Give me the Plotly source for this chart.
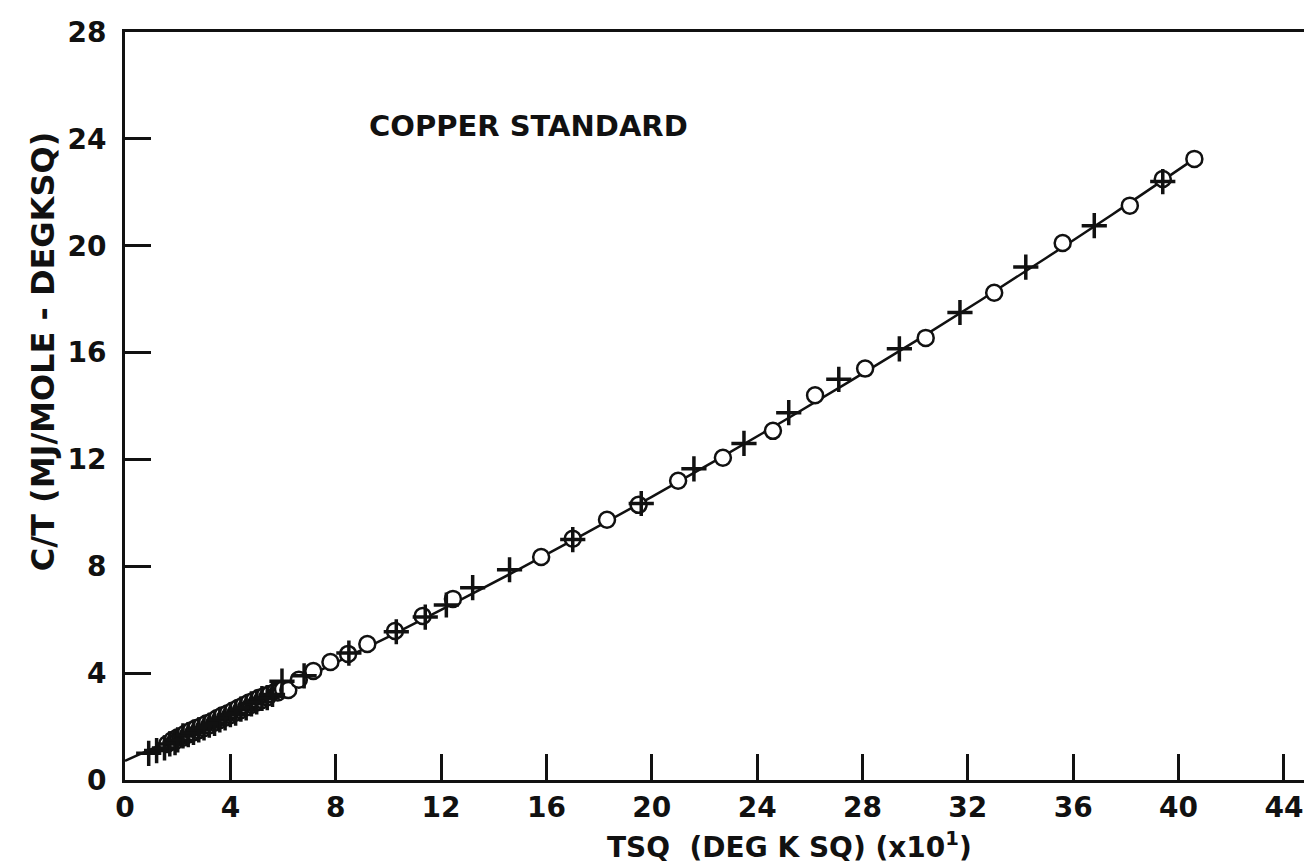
import plotly.graph_objects as go

# ---- data ----
# fitted curve C/T vs TSQ (x10)
line_x = [0, 2.5, 5, 7.5, 10, 12.5, 15, 17.5, 20, 22.5, 25, 27.5, 30, 32.5, 35, 37.5, 40.6]
line_y = [0.72, 1.82, 2.97, 4.15, 5.36, 6.62, 7.91, 9.24, 10.60, 12.00, 13.44, 14.91, 16.42, 17.97, 19.56, 21.18, 23.25]

# open-circle data points
circ_x = [1.6, 1.8, 1.9, 2.0, 2.1, 2.2, 2.3, 2.4, 2.5, 2.6, 2.7, 2.8, 2.9, 3.0, 3.1, 3.2, 3.3, 3.4, 3.5,
          3.6, 3.7, 3.8, 3.9, 4.0, 4.1, 4.2, 4.3, 4.4, 4.5, 4.6, 4.7, 4.8, 4.9, 5.0, 5.1, 5.2,
          5.3, 5.4, 5.5, 5.7, 5.8, 6.0,
          6.2, 6.6, 7.15, 7.8, 8.47, 9.2, 10.25, 11.3, 12.45, 15.8, 17.0, 18.3, 19.5,
          21.0, 22.7, 24.6, 26.2, 28.1, 30.4, 33.0, 35.6, 38.15, 39.4, 40.6]
circ_y = [1.35, 1.50, 1.45, 1.60, 1.62, 1.58, 1.75, 1.70, 1.85, 1.78, 1.95, 1.86, 2.02, 1.95, 2.12, 2.05, 2.20, 2.14, 2.32,
          2.25, 2.42, 2.33, 2.50, 2.43, 2.60, 2.52, 2.70, 2.62, 2.80, 2.72, 2.90, 2.82, 2.98, 2.90, 3.08, 3.00,
          3.15, 3.10, 3.22, 3.30, 3.28, 3.40,
          3.37, 3.75, 4.08, 4.42, 4.72, 5.09, 5.58, 6.14, 6.78, 8.35, 9.03, 9.74, 10.30,
          11.20, 12.06, 13.07, 14.40, 15.40, 16.55, 18.24, 20.10, 21.50, 22.50, 23.25]

# cross data points
cross_x = [0.9, 1.2, 1.5, 1.7, 1.9, 2.0, 2.2, 2.4, 2.6, 2.8, 3.0, 3.2, 3.4, 3.6, 3.8, 4.0, 4.2, 4.4,
           4.6, 4.8, 5.0, 5.2, 5.4, 5.6, 5.96,
           6.8, 8.5, 10.3, 11.4, 12.2, 13.2, 14.6, 17.0, 19.6, 21.6, 23.5, 25.2, 27.1,
           29.4, 31.7, 34.2, 36.8, 39.4]
cross_y = [1.00, 1.10, 1.20, 1.35, 1.40, 1.50, 1.65, 1.70, 1.78, 1.88, 1.95, 2.05, 2.12, 2.25, 2.32, 2.45, 2.50, 2.65,
           2.70, 2.85, 2.92, 3.05, 3.08, 3.20, 3.70,
           3.90, 4.75, 5.55, 6.10, 6.55, 7.20, 7.87, 9.00, 10.35, 11.65, 12.60, 13.75, 15.00,
           16.14, 17.50, 19.20, 20.75, 22.40]

x_ticks = [0, 4, 8, 12, 16, 20, 24, 28, 32, 36, 40, 44]
y_ticks = [0, 4, 8, 12, 16, 20, 24, 28]

FONT = "DejaVu Sans"
INK = "#111111"

fig = go.Figure()
fig.add_trace(go.Scatter(x=line_x, y=line_y, mode="lines", line=dict(color=INK, width=2.5, shape="spline"),
                         showlegend=False, hoverinfo="skip"))
fig.add_trace(go.Scatter(x=circ_x, y=circ_y, mode="markers",
                         marker=dict(symbol="circle", size=16, color="white", line=dict(color=INK, width=2.5)),
                         showlegend=False))
fig.add_trace(go.Scatter(x=cross_x, y=cross_y, mode="markers",
                         marker=dict(symbol="cross-thin", size=18, line=dict(color=INK, width=3.5)),
                         showlegend=False))
# invisible trace for right-side mirrored ticks
fig.add_trace(go.Scatter(x=[0], y=[0], yaxis="y2", mode="markers", marker=dict(opacity=0),
                         showlegend=False, hoverinfo="skip"))

fig.update_layout(
    width=1312, height=864,
    margin=dict(l=117, r=0, t=24, b=92),
    paper_bgcolor="white", plot_bgcolor="white",
    font=dict(family=FONT, color=INK, size=27),
    xaxis=dict(range=[0, 45.37], tickvals=x_ticks, ticktext=[str(v) for v in x_ticks],
               ticks="inside", ticklen=26, tickwidth=3, tickcolor=INK,
               showline=True, linewidth=3, linecolor=INK, mirror=True,
               showgrid=False, zeroline=False,
               tickfont=dict(family=FONT, size=28, weight="bold")),
    yaxis=dict(range=[0, 28], tickvals=y_ticks, ticktext=[str(v) for v in y_ticks],
               ticks="inside", ticklen=26, tickwidth=3, tickcolor=INK,
               showline=True, linewidth=3, linecolor=INK,
               showgrid=False, zeroline=False, ticklabelstandoff=10,
               tickfont=dict(family=FONT, size=28, weight="bold")),
    yaxis2=dict(range=[0, 28], overlaying="y", side="right", tickvals=y_ticks,
                ticks="inside", ticklen=16, tickwidth=3, tickcolor=INK,
                showticklabels=False, showline=False, showgrid=False, zeroline=False),
    annotations=[
        dict(text="COPPER STANDARD", x=0.338, y=0.874, xref="paper", yref="paper",
             showarrow=False, xanchor="center", yanchor="middle",
             font=dict(family=FONT, size=29, weight="bold")),
        dict(text="TSQ  (DEG K SQ) (x10<sup>1</sup>)", x=0.556, y=-0.088, xref="paper", yref="paper",
             showarrow=False, xanchor="center", yanchor="middle",
             font=dict(family=FONT, size=28, weight="bold")),
        dict(text="C/T (MJ/MOLE - DEGKSQ)", x=-0.068, y=0.573, xref="paper", yref="paper",
             showarrow=False, xanchor="center", yanchor="middle", textangle=-90,
             font=dict(family=FONT, size=32, weight="bold")),
    ],
)

fig.write_html("out.html")
